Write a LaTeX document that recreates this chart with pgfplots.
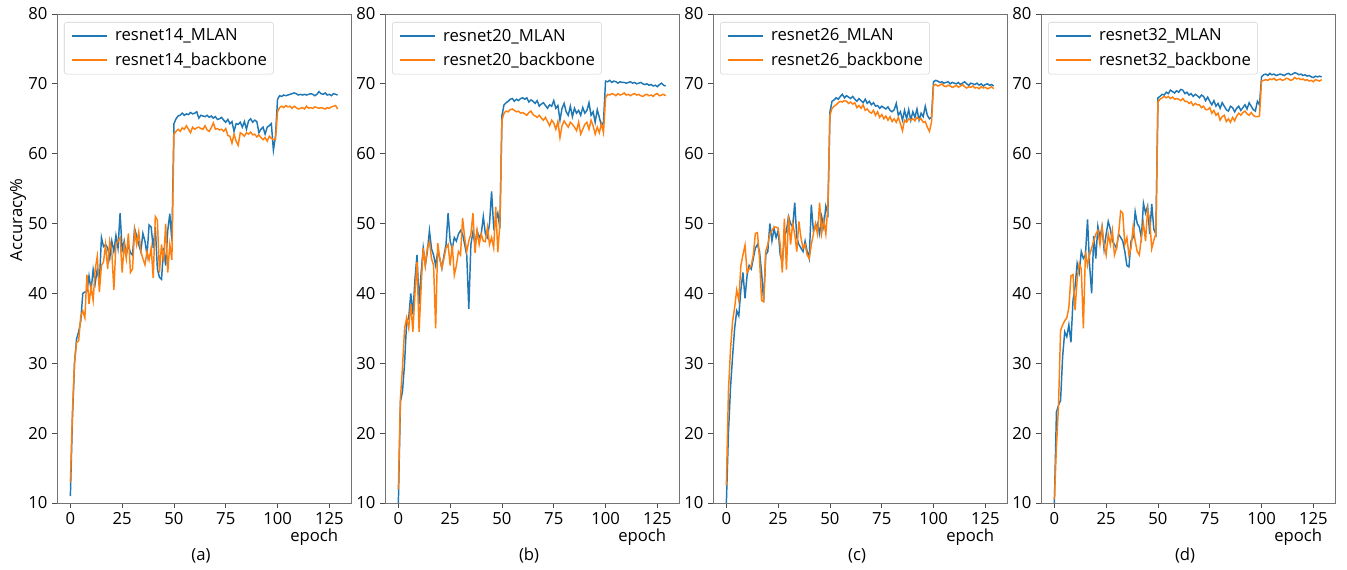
\documentclass[border=0pt]{standalone}
\usepackage{fontspec}
\setmainfont{Open Sans}
\usepackage{pgfplots}
\pgfplotsset{compat=1.18}
\definecolor{tabblue}{HTML}{1F77B4}
\definecolor{taborange}{HTML}{FF7F0E}

% 1 px of the reference = 0.75pt
\pgfplotsset{
  panel/.style={
    scale only axis,
    width=220.5pt, height=366.75pt,
    anchor=south west,
    clip mode=individual,
    xmin=-6.45, xmax=135.45,
    ymin=10, ymax=80,
    xtick={0,25,50,75,100,125},
    ytick={10,20,30,40,50,60,70,80},
    xtick pos=bottom, ytick pos=left,
    tick align=outside,
    major tick length=3.6pt,
    axis line style={black!55, line width=0.6pt},
    every tick/.style={black!70, line width=0.6pt},
    /pgf/number format/assume math mode=true,
    font=\fontsize{12.5}{14}\selectfont,
    ticklabel style={font=\fontsize{12.5}{14}\selectfont},
    xlabel={epoch},
    xlabel style={at={(axis description cs:0.875,-0.069)}, anchor=center},
    legend cell align=left,
    legend style={at={(axis description cs:0,1)}, anchor=north west,
      xshift=5.25pt, yshift=-6pt, draw=black!18, rounded corners=2pt,
      fill=white, inner xsep=3pt, inner ysep=3pt, row sep=3.4pt,
      font=\fontsize{12.5}{14}\selectfont},
    legend image code/.code={\draw[##1] (2.25pt,0pt) -- (28.5pt,0pt);
      \path (0pt,0pt) (32pt,0pt);},
  },
  ml/.style={tabblue, line width=1.1pt},
  bb/.style={taborange, line width=1.1pt},
}

\begin{document}
\begin{tikzpicture}
\path[use as bounding box] (0,0) rectangle (1010.25pt,427.5pt);

% (a) resnet14
\begin{axis}[panel, at={(42.75pt,50.25pt)},
  ylabel={Accuracy\%},
  ylabel style={at={(axis description cs:-0.1327,0.579)}, anchor=center},
  legend entries={resnet14\_MLAN, resnet14\_backbone}]
\addplot[ml] coordinates {
(0,11)(1,22)(2,30)(3,33.5)(4,34.5)(5,36)(6,40)(7,40.2)(8,40.3)(9,42.5)
(10,40.5)(11,43.4)(12,41.5)(13,43.5)(14,41.5)(15,48)(16,46.7)(17,47)(18,46.5)(19,45)
(20,47.5)(21,46)(22,48.3)(23,46.5)(24,51.5)(25,46.2)(26,47.5)(27,45.5)(28,47)(29,45.8)
(30,45.5)(31,49.3)(32,48.2)(33,47)(34,46)(35,48.6)(36,47.5)(37,45.5)(38,49.8)(39,49.5)
(40,46.5)(41,49.5)(42,43.5)(43,42.3)(44,42)(45,46.5)(46,44)(47,49)(48,51.4)(49,47.5)
(50,64.3)(51,65)(52,65.4)(53,65.5)(54,65.8)(55,65.5)(56,65.7)(57,65.6)(58,65.9)(59,65.7)
(60,65.8)(61,66)(62,65.1)(63,65.5)(64,65.4)(65,65.3)(66,65.5)(67,65.2)(68,65.4)(69,65.1)
(70,65.3)(71,64.9)(72,65)(73,65.2)(74,64.8)(75,64.5)(76,64.9)(77,64.3)(78,64.6)(79,63.2)
(80,64.3)(81,64.2)(82,64.5)(83,63.8)(84,64.6)(85,63.5)(86,64.7)(87,65)(88,64.5)(89,64.8)
(90,64.6)(91,63)(92,63.5)(93,63.8)(94,62.8)(95,63.8)(96,64)(97,64.3)(98,60.5)(99,62.5)
(100,67.8)(101,68.3)(102,68.2)(103,68.4)(104,68.3)(105,68.4)(106,68.5)(107,68.6)(108,68.7)(109,68.6)
(110,68.4)(111,68.5)(112,68.4)(113,68.5)(114,68.4)(115,68.5)(116,68.6)(117,68.5)(118,68.3)(119,68.5)
(120,68.9)(121,68.6)(122,68.5)(123,68.7)(124,68.4)(125,68.5)(126,68.3)(127,68.6)(128,68.5)(129,68.4)
};
\addplot[bb] coordinates {
(0,13)(1,23)(2,30)(3,33)(4,33.2)(5,36.7)(6,37.5)(7,36.5)(8,42.7)(9,38.5)
(10,41)(11,39)(12,43.5)(13,45.3)(14,40.2)(15,44)(16,44.5)(17,47)(18,43.5)(19,47.5)
(20,46)(21,40.5)(22,47)(23,47.5)(24,48)(25,43)(26,47)(27,45)(28,48.6)(29,43)
(30,43.5)(31,49)(32,47)(33,48.8)(34,46)(35,45)(36,44.1)(37,46)(38,44.8)(39,46.5)
(40,42.2)(41,51)(42,50.5)(43,43)(44,47)(45,44.5)(46,50)(47,43)(48,47)(49,44.8)
(50,62.8)(51,63.2)(52,63.5)(53,63.2)(54,63.7)(55,63.5)(56,64)(57,63.5)(58,63)(59,63.8)
(60,63.5)(61,63.7)(62,63.8)(63,63.6)(64,63.5)(65,64)(66,63.4)(67,63.2)(68,63.7)(69,64.4)
(70,63.5)(71,63.6)(72,63.4)(73,63.5)(74,63.2)(75,63.6)(76,62.6)(77,62.5)(78,61.5)(79,62.8)
(80,61.8)(81,61.2)(82,63)(83,62.8)(84,62.5)(85,63)(86,62.8)(87,63.1)(88,62.7)(89,62.8)
(90,62.4)(91,62.7)(92,62.3)(93,62)(94,62.3)(95,61.8)(96,62.5)(97,62.2)(98,62)(99,62)
(100,66)(101,66.6)(102,66.8)(103,66.6)(104,66.9)(105,66.7)(106,66.8)(107,66.5)(108,66.8)(109,66.6)
(110,66.4)(111,66.5)(112,66.6)(113,66.4)(114,66.8)(115,66.5)(116,66.6)(117,66.5)(118,66.7)(119,66.6)
(120,66.5)(121,66.6)(122,66.5)(123,66.4)(124,66.6)(125,66.5)(126,66.7)(127,66.8)(128,66.9)(129,66.4)
};
\node at (axis description cs:0.49,-0.108) {(a)};
\end{axis}

% (b) resnet20
\begin{axis}[panel, at={(288.75pt,50.25pt)},
  legend entries={resnet20\_MLAN, resnet20\_backbone}]
\addplot[ml] coordinates {
(0,10)(1,24.5)(2,26)(3,30)(4,36)(5,36.5)(6,40)(7,37)(8,42)(9,45.5)
(10,38.5)(11,43)(12,46.5)(13,44)(14,46)(15,49)(16,46.4)(17,45.5)(18,44)(19,46)
(20,45)(21,43.6)(22,45.4)(23,47)(24,51.5)(25,47.5)(26,46.4)(27,48)(28,47.5)(29,48.5)
(30,49)(31,48.5)(32,47)(33,45.5)(34,37.8)(35,47)(36,48.8)(37,47)(38,49)(39,48)
(40,48.5)(41,51)(42,48.5)(43,48)(44,50)(45,54.6)(46,49.5)(47,50.5)(48,51.5)(49,49.3)
(50,65.5)(51,67)(52,67.3)(53,67.5)(54,67.8)(55,67.9)(56,67.5)(57,67.8)(58,67.6)(59,67.9)
(60,68)(61,67.8)(62,68)(63,67.4)(64,67.7)(65,67.5)(66,67.2)(67,67.6)(68,66.8)(69,67.1)
(70,67.3)(71,66.9)(72,66.5)(73,67)(74,66.8)(75,67.6)(76,66.5)(77,66.9)(78,64.8)(79,66.5)
(80,67.2)(81,66)(82,65.5)(83,66.8)(84,65.3)(85,66.5)(86,65.8)(87,66.2)(88,65.5)(89,66.6)
(90,65.8)(91,66.2)(92,67.3)(93,65.5)(94,66)(95,64.5)(96,66.3)(97,65.2)(98,64)(99,64.5)
(100,70.4)(101,70.3)(102,70.5)(103,70.2)(104,70.4)(105,70.3)(106,70.1)(107,70.3)(108,70.2)(109,70.2)
(110,70.1)(111,70.2)(112,70.3)(113,70.1)(114,70.2)(115,70)(116,70.1)(117,70.2)(118,70)(119,69.9)
(120,70)(121,69.8)(122,69.9)(123,69.7)(124,69.8)(125,69.6)(126,69.9)(127,70.1)(128,69.8)(129,69.7)
};
\addplot[bb] coordinates {
(0,12)(1,25)(2,29.5)(3,35)(4,36.5)(5,35)(6,38.5)(7,34.5)(8,40)(9,44.5)
(10,34.5)(11,41)(12,46.5)(13,44)(14,46.5)(15,47.4)(16,45)(17,44)(18,35)(19,47.2)
(20,45)(21,43.6)(22,45)(23,46.5)(24,47)(25,44)(26,47)(27,42.6)(28,44)(29,46)
(30,45.5)(31,50.8)(32,48)(33,46)(34,47.5)(35,48.5)(36,51.5)(37,45.8)(38,49)(39,47)
(40,48.5)(41,47.5)(42,47.4)(43,49.5)(44,47)(45,48)(46,46.5)(47,52.4)(48,45.9)(49,50)
(50,64.8)(51,65.8)(52,66.1)(53,66)(54,66.3)(55,66.4)(56,66.2)(57,66)(58,66.1)(59,65.8)
(60,65.9)(61,65.7)(62,65.5)(63,65.9)(64,66.1)(65,65.6)(66,65.4)(67,65.2)(68,65.5)(69,65.1)
(70,64.8)(71,65.2)(72,64.6)(73,64)(74,64.8)(75,64.4)(76,63.5)(77,64.6)(78,62.3)(79,64)
(80,64.7)(81,64.2)(82,63.8)(83,64.5)(84,64.2)(85,63.8)(86,63.3)(87,64.5)(88,62.8)(89,63.5)
(90,64.2)(91,64.5)(92,63.5)(93,64.8)(94,64)(95,62.8)(96,63.8)(97,63)(98,64.3)(99,63)
(100,68)(101,68.5)(102,68.4)(103,68.6)(104,68.5)(105,68.3)(106,68.6)(107,68.4)(108,68.5)(109,68.7)
(110,68.4)(111,68.5)(112,68.3)(113,68.5)(114,68.6)(115,68.4)(116,68.5)(117,68.3)(118,68.2)(119,68.4)
(120,68.5)(121,68.3)(122,68.4)(123,68.2)(124,68.5)(125,68.6)(126,68.3)(127,68.4)(128,68.5)(129,68.3)
};
\node at (axis description cs:0.49,-0.108) {(b)};
\end{axis}

% (c) resnet26
\begin{axis}[panel, at={(534.75pt,50.25pt)},
  legend entries={resnet26\_MLAN, resnet26\_backbone}]
\addplot[ml] coordinates {
(0,10)(1,20)(2,26.5)(3,31)(4,35)(5,37.5)(6,36.8)(7,40.5)(8,43)(9,39.3)
(10,42.6)(11,44)(12,43.5)(13,45)(14,46.5)(15,47)(16,46)(17,43)(18,38.8)(19,45.5)
(20,46)(21,50)(22,47.5)(23,49.3)(24,48)(25,49)(26,45.5)(27,44.5)(28,48)(29,49)
(30,51)(31,50)(32,49.5)(33,53)(34,48)(35,47)(36,46.5)(37,46)(38,47.5)(39,46)
(40,45)(41,52.7)(42,49)(43,49.3)(44,50)(45,48.5)(46,51)(47,49.5)(48,52.5)(49,51.5)
(50,66)(51,67.5)(52,67.7)(53,68)(54,67.8)(55,68.2)(56,68.5)(57,68)(58,68.3)(59,68.1)
(60,67.9)(61,68.2)(62,67.8)(63,67.5)(64,67.9)(65,67.6)(66,67.3)(67,67.8)(68,67.2)(69,67.5)
(70,67)(71,67.3)(72,66.8)(73,66.9)(74,66.5)(75,66.8)(76,66.6)(77,66.4)(78,66.7)(79,66.2)
(80,66)(81,66.3)(82,67.2)(83,65.5)(84,66)(85,64.8)(86,66.2)(87,65)(88,66.3)(89,64.8)
(90,66)(91,65.2)(92,66.4)(93,64.8)(94,65.8)(95,65.3)(96,66.8)(97,65.5)(98,65)(99,65.2)
(100,70.3)(101,70.5)(102,70.4)(103,70.2)(104,70.3)(105,70.1)(106,70.2)(107,70.3)(108,70)(109,70.2)
(110,70.1)(111,70)(112,70.2)(113,69.9)(114,70.1)(115,70.3)(116,70)(117,69.8)(118,70.1)(119,70)
(120,69.9)(121,70.1)(122,69.8)(123,70)(124,69.7)(125,69.9)(126,70)(127,69.8)(128,69.9)(129,69.7)
};
\addplot[bb] coordinates {
(0,12.5)(1,26)(2,32)(3,36)(4,38)(5,40.5)(6,39)(7,44)(8,45.5)(9,46.9)
(10,43)(11,43.5)(12,44)(13,45.5)(14,48.6)(15,48.7)(16,45)(17,39)(18,38.8)(19,46)
(20,47)(21,48.5)(22,49)(23,49.5)(24,49.5)(25,49.3)(26,47)(27,43)(28,50.7)(29,43.4)
(30,51.2)(31,47)(32,50)(33,48.5)(34,46)(35,50.3)(36,48)(37,46.5)(38,47)(39,45.5)
(40,45)(41,47)(42,48.5)(43,50)(44,48.5)(45,53)(46,48.6)(47,50.5)(48,48.5)(49,52.5)
(50,65.5)(51,66.5)(52,66.8)(53,67)(54,67.3)(55,67.5)(56,67.4)(57,67.6)(58,67.5)(59,67.2)
(60,67.4)(61,67.1)(62,67.3)(63,66.6)(64,66.9)(65,66.5)(66,67)(67,66.2)(68,66.4)(69,66)
(70,65.8)(71,66.2)(72,65.5)(73,66)(74,65.2)(75,65.6)(76,65)(77,65.4)(78,64.8)(79,65.3)
(80,64.6)(81,65)(82,64.5)(83,65.2)(84,64.3)(85,63.3)(86,64.8)(87,64.5)(88,65)(89,64.8)
(90,65)(91,64.7)(92,65.2)(93,64.9)(94,65)(95,64.5)(96,64.6)(97,63.8)(98,63.2)(99,64.5)
(100,69.8)(101,69.9)(102,69.7)(103,69.8)(104,70)(105,69.7)(106,69.6)(107,69.8)(108,69.7)(109,69.5)
(110,69.6)(111,69.8)(112,69.5)(113,69.7)(114,69.9)(115,69.6)(116,69.4)(117,69.6)(118,69.5)(119,69.7)
(120,69.4)(121,69.5)(122,69.3)(123,69.6)(124,69.4)(125,69.5)(126,69.3)(127,69.4)(128,69.6)(129,69.3)
};
\node at (axis description cs:0.49,-0.108) {(c)};
\end{axis}

% (d) resnet32
\begin{axis}[panel, at={(780.75pt,50.25pt)},
  legend entries={resnet32\_MLAN, resnet32\_backbone}]
\addplot[ml] coordinates {
(0,10)(1,23)(2,24)(3,24.7)(4,31)(5,34.5)(6,33.8)(7,35.5)(8,33)(9,39)
(10,41)(11,44.3)(12,43)(13,46)(14,45)(15,45.5)(16,50.6)(17,44)(18,40)(19,48.2)
(20,45)(21,49.6)(22,48)(23,49.5)(24,46.3)(25,48.5)(26,50.3)(27,49.2)(28,47.5)(29,47)
(30,46.5)(31,48.5)(32,48)(33,47.5)(34,46)(35,44)(36,43.8)(37,47.5)(38,48)(39,51.7)
(40,50)(41,49.5)(42,48)(43,52.9)(44,51.5)(45,52.5)(46,48.5)(47,52.8)(48,49.2)(49,48.5)
(50,68)(51,68.2)(52,68.5)(53,68.4)(54,68.8)(55,68.6)(56,69.1)(57,68.9)(58,68.7)(59,69)
(60,68.8)(61,69.2)(62,69.1)(63,68.6)(64,68.8)(65,68.4)(66,68.6)(67,68.2)(68,68.5)(69,68.3)
(70,68)(71,68.4)(72,68.2)(73,67.6)(74,68.1)(75,67.5)(76,67)(77,67.6)(78,66.8)(79,67.2)
(80,66.5)(81,67.3)(82,66.8)(83,66.3)(84,66.1)(85,66.8)(86,66.6)(87,66)(88,66.5)(89,66.8)
(90,66.2)(91,66.6)(92,67)(93,66.4)(94,67.3)(95,66.8)(96,66.3)(97,66.1)(98,67.5)(99,67)
(100,71)(101,71.3)(102,71.4)(103,71.2)(104,71.5)(105,71.3)(106,71.4)(107,71.2)(108,71.3)(109,71.4)
(110,71.3)(111,71.2)(112,71.4)(113,71.5)(114,71.3)(115,71.4)(116,71.6)(117,71.5)(118,71.3)(119,71.4)
(120,71.2)(121,71.3)(122,71.1)(123,71.2)(124,71)(125,70.9)(126,71.1)(127,71)(128,71.1)(129,71)
};
\addplot[bb] coordinates {
(0,10.5)(1,18)(2,24)(3,34.7)(4,35.5)(5,36.1)(6,36.5)(7,38)(8,42.5)(9,42.7)
(10,37.6)(11,42)(12,44.3)(13,43.5)(14,35)(15,46)(16,44)(17,45.5)(18,46.5)(19,47.5)
(20,48.5)(21,49)(22,47)(23,49.5)(24,47)(25,45.5)(26,48.5)(27,47)(28,49)(29,45.5)
(30,46.5)(31,48.5)(32,51.8)(33,51.5)(34,47)(35,48)(36,45.5)(37,46.5)(38,49.5)(39,47.5)
(40,46)(41,45.5)(42,48)(43,50)(44,47.5)(45,52)(46,50.5)(47,46.4)(48,47.6)(49,48.5)
(50,67.4)(51,67.8)(52,68)(53,68.2)(54,68)(55,68.2)(56,67.9)(57,68.1)(58,67.8)(59,67.9)
(60,67.8)(61,67.6)(62,67.9)(63,67.5)(64,67.5)(65,67.2)(66,67.4)(67,66.9)(68,67.2)(69,67)
(70,67)(71,66.6)(72,66.8)(73,66.3)(74,66.3)(75,66.6)(76,65.8)(77,66.2)(78,65.5)(79,65.8)
(80,64.8)(81,65.3)(82,65.5)(83,64.6)(84,65)(85,64.5)(86,65.2)(87,64.7)(88,65.4)(89,65.8)
(90,65.5)(91,65.9)(92,66.1)(93,65.7)(94,65.5)(95,65.9)(96,65.5)(97,65.3)(98,65.3)(99,65.4)
(100,70.4)(101,70.5)(102,70.6)(103,70.5)(104,70.7)(105,70.6)(106,70.8)(107,70.5)(108,70.6)(109,70.7)
(110,70.5)(111,70.6)(112,70.8)(113,70.7)(114,70.5)(115,70.6)(116,70.9)(117,70.7)(118,70.8)(119,70.6)
(120,70.7)(121,70.5)(122,70.6)(123,70.4)(124,70.5)(125,70.3)(126,70.6)(127,70.5)(128,70.4)(129,70.6)
};
\node at (axis description cs:0.49,-0.108) {(d)};
\end{axis}
\end{tikzpicture}
\end{document}
